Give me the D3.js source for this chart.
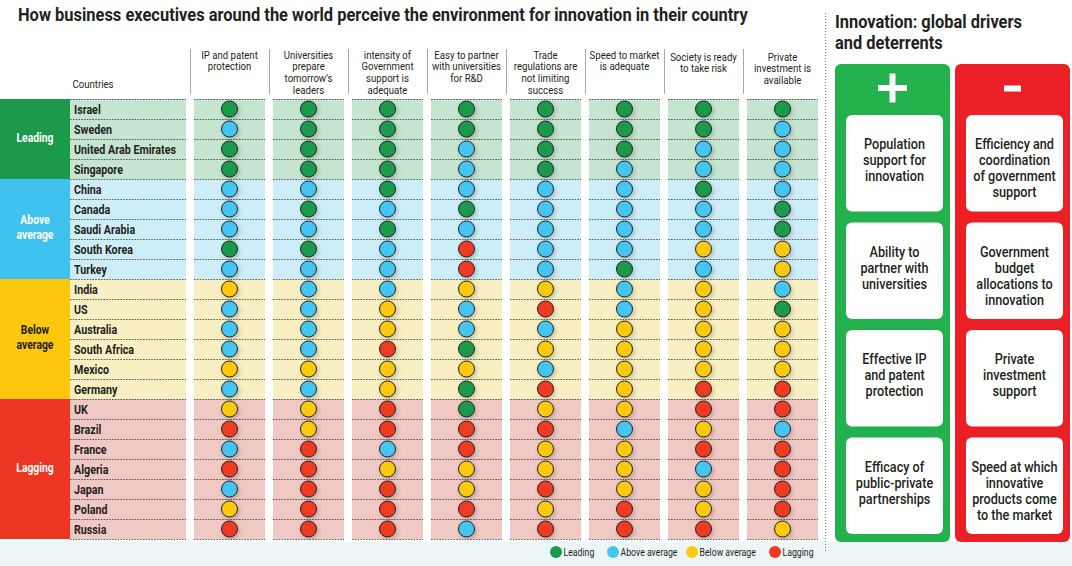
<!DOCTYPE html>
<html><head><meta charset="utf-8">
<script src="https://cdn.jsdelivr.net/npm/d3@7/dist/d3.min.js"></script>
<style>
html,body{margin:0;padding:0;background:#fff;}
svg{display:block;font-family:Roboto,"Noto Sans",sans-serif;}
</style></head><body>
<svg id="chart" width="1072" height="566"></svg>
<script>
// ---------- DATA ----------
const countries = ["Israel","Sweden","United Arab Emirates","Singapore","China","Canada","Saudi Arabia","South Korea","Turkey","India","US","Australia","South Africa","Mexico","Germany","UK","Brazil","France","Algeria","Japan","Poland","Russia"];
const groups = ["Leading","Above average","Below average","Lagging"];
const groupCounts = [4,5,6,7];
const criteria = ["IP and patent protection","Universities prepare tomorrow's leaders","intensity of Government support is adequate","Easy to partner with universities for R&D","Trade regulations are not limiting success","Speed to market is adequate","Society is ready to take risk","Private investment is available"];
const headerLines = [
  ["IP and patent","protection"],
  ["Universities","prepare","tomorrow’s","leaders"],
  ["intensity of","Government","support is","adequate"],
  ["Easy to partner","with universities","for R&D"],
  ["Trade","regulations are","not limiting","success"],
  ["Speed to market","is adequate"],
  ["Society is ready","to take risk"],
  ["Private","investment is","available"]
];
// L = Leading, A = Above average, B = Below average, G = Lagging
const ipProtection   = ["L","A","L","L","A","A","A","L","A","B","A","A","A","B","A","B","G","A","G","A","B","G"];
const universities   = ["L","L","L","L","A","L","A","L","A","A","A","A","A","B","A","B","B","G","G","G","G","G"];
const govSupport     = ["L","L","L","L","L","A","L","A","A","A","B","B","G","B","B","G","G","A","B","G","G","G"];
const partnerUniv    = ["L","L","A","A","A","L","A","G","G","B","A","A","L","B","L","L","G","G","B","B","G","A"];
const tradeRegs      = ["L","L","L","L","A","A","A","A","A","B","G","A","B","A","G","B","G","B","B","G","B","G"];
const speedToMarket  = ["L","L","L","A","A","A","A","A","L","A","A","B","B","B","B","B","A","B","B","B","G","G"];
const societyRisk    = ["L","L","A","A","L","A","A","B","A","B","B","B","B","B","G","G","B","G","A","B","B","G"];
const privateInvest  = ["L","A","A","A","A","L","L","B","B","A","L","B","B","B","G","G","A","G","G","G","G","B"];
const seriesValues = [ipProtection, universities, govSupport, partnerUniv, tradeRegs, speedToMarket, societyRisk, privateInvest];
const levelCodes = ["L","A","B","G"];
const legendLabels = ["Leading","Above average","Below average","Lagging"];
const mainTitle = "How business executives around the world perceive the environment for innovation in their country";
const sideTitle = ["Innovation: global drivers","and deterrents"];
const drivers = [["Population","support for","innovation"],["Ability to","partner with","universities"],["Effective IP","and patent","protection"],["Efficacy of","public-private","partnerships"]];
const deterrents = [["Efficiency and","coordination","of government","support"],["Government","budget","allocations to","innovation"],["Private","investment","support"],["Speed at which","innovative","products come","to the market"]];

// ---------- STYLE ----------
const dotColor = d3.scaleOrdinal().domain(levelCodes).range(["#1b9a4b","#45c5f1","#fdc911","#ee3a24"]);
const blockColor = d3.scaleOrdinal().domain(groups).range(["#1a9a4a","#3fc2ee","#fdc70d","#ed3524"]);
const tintColor = d3.scaleOrdinal().domain(groups).range(["#c5e5d0","#cdeef9","#f8f0c3","#f1c9c4"]);
const labelColor = d3.scaleOrdinal().domain(groups).range(["#fff","#fff","#231f20","#fff"]);
const dark = "#231f20";

const svg = d3.select("#chart");

// condensed look: horizontal scale measured from natural width vs. target width
function measure(str, size, weight){
  const t = svg.append("text").attr("font-size",size).attr("font-weight",weight).text(str);
  const w = t.node().getComputedTextLength(); t.remove(); return w;
}
function txt(parent, x, y, str, o){
  return parent.append("text")
    .attr("transform",`translate(${x},${y}) scale(${o.sx},1)`)
    .attr("text-anchor",o.anchor||"start").attr("font-size",o.size).attr("font-weight",o.weight||"normal")
    .attr("fill",o.fill||dark).text(str);
}
const S = {
  title:   {size:19,  weight:"bold"},
  country: {size:12.8,weight:"bold"},
  header:  {size:10.2,weight:"normal"},
  group:   {size:12.5,weight:"bold"},
  legend:  {size:10.5,weight:"normal"},
  side:    {size:18,  weight:"bold"},
  card:    {size:14,  weight:500}
};
S.title.sx   = 730 / measure(mainTitle, S.title.size, "bold");
S.country.sx = 102 / measure("United Arab Emirates", S.country.size, "bold");
S.header.sx  = 69  / measure("with universities", S.header.size, "normal");
S.group.sx   = 37  / measure("Leading", S.group.size, "bold");
S.legend.sx  = 57  / measure("Above average", S.legend.size, "normal");
S.side.sx    = 187 / measure(sideTitle[0], S.side.size, "bold");
S.card.sx    = 61  / measure("Population", S.card.size, 500);

const defs = svg.append("defs");
const f = defs.append("filter").attr("id","sh").attr("x","-50%").attr("y","-50%").attr("width","200%").attr("height","200%");
f.append("feDropShadow").attr("dx",1.5).attr("dy",2).attr("stdDeviation",2).attr("flood-color","#000").attr("flood-opacity",0.22);

// bottom light strip
svg.append("rect").attr("x",0).attr("y",542).attr("width",1072).attr("height",24).attr("fill","#edf6f6");

// title
txt(svg, 18, 21, mainTitle, S.title);

// scales
const y = d3.scaleBand().domain(countries).range([99,539]);
const x = d3.scaleBand().domain(criteria).range([190,822]).paddingInner(8/79).paddingOuter(4/79);

// group membership
const countryGroup = [];
groups.forEach((g,i)=>{ for(let k=0;k<groupCounts[i];k++) countryGroup.push(g); });
const groupSpans = groups.map((g,i)=>{
  const first = countries[countryGroup.indexOf(g)];
  const last = countries[countryGroup.lastIndexOf(g)];
  return {g, y0:y(first), y1:y(last)+y.bandwidth()};
});

// group blocks
svg.append("g").selectAll("rect").data(groupSpans).join("rect")
  .attr("x",0).attr("y",d=>d.y0).attr("width",70).attr("height",d=>d.y1-d.y0).attr("fill",d=>blockColor(d.g));
const glg = svg.append("g");
groupSpans.forEach(d=>{
  const words = d.g.split(" ");
  const cy = (d.y0+d.y1)/2 - 2;
  const lh = 14.5;
  words.forEach((w,i)=>{
    txt(glg, 35, cy + (i-(words.length-1)/2)*lh + 4.5, w, Object.assign({}, S.group, {anchor:"middle", fill:labelColor(d.g)}));
  });
});

// country tinted column and panels
svg.append("g").selectAll("rect").data(groupSpans).join("rect")
  .attr("x",70).attr("y",d=>d.y0).attr("width",116).attr("height",d=>d.y1-d.y0).attr("fill",d=>tintColor(d.g));
criteria.forEach(c=>{
  svg.append("g").selectAll("rect").data(groupSpans).join("rect")
    .attr("x",x(c)).attr("y",d=>d.y0).attr("width",x.bandwidth()).attr("height",d=>d.y1-d.y0).attr("fill",d=>tintColor(d.g));
});

// dotted row lines
const boundaries = countries.map(c=>y(c)).concat([y(countries[countries.length-1])+y.bandwidth()]);
const segs = [[70,186]].concat(criteria.map(c=>[x(c), x(c)+x.bandwidth()]));
const lines = svg.append("g").attr("stroke","#3a3a3a").attr("stroke-width",0.8).attr("stroke-dasharray","1.6,1.2");
boundaries.forEach(by=>{
  segs.forEach(s=>{
    lines.append("line").attr("x1",s[0]).attr("x2",s[1]).attr("y1",by+0.5).attr("y2",by+0.5);
  });
});

// country names
const cg = svg.append("g");
countries.forEach(c=>{ txt(cg, 74, y(c)+y.bandwidth()/2+4.6, c, S.country); });

// header
const hg = svg.append("g");
txt(hg, 93, 88, "Countries", Object.assign({}, S.header, {anchor:"middle"}));
svg.append("g").selectAll("line").data(criteria).join("line")
  .attr("x1",d=>x(d)-4+0.5).attr("x2",d=>x(d)-4+0.5).attr("y1",49).attr("y2",94)
  .attr("stroke","#a8a8a8").attr("stroke-width",1);
criteria.forEach((c,i)=>{
  const y0 = headerLines[i].length < 4 && i >= 6 ? 60.5 : 58.5;
  headerLines[i].forEach((ln,k)=>{
    txt(hg, x(c)+x.bandwidth()/2, y0 + k*11.8, ln, Object.assign({}, S.header, {anchor:"middle"}));
  });
});

// dots
const cells = [];
criteria.forEach((c,i)=>{ countries.forEach((ct,j)=>{ cells.push({c, ct, v: seriesValues[i][j]}); }); });
svg.append("g").selectAll("circle").data(cells).join("circle")
  .attr("cx",d=>x(d.c)+x.bandwidth()/2).attr("cy",d=>y(d.ct)+y.bandwidth()/2).attr("r",8)
  .attr("fill",d=>dotColor(d.v)).attr("stroke","#222").attr("stroke-width",1).attr("filter","url(#sh)");

// legend
const legendX = [556,613,692,775];
const lgg = svg.append("g");
levelCodes.forEach((d,i)=>{
  lgg.append("circle").attr("cx",legendX[i]).attr("cy",552).attr("r",6).attr("fill",dotColor(d));
  txt(lgg, legendX[i]+7.5, 555.8, legendLabels[i], S.legend);
});

// ---------- right panel ----------
svg.append("line").attr("x1",825.5).attr("x2",825.5).attr("y1",13).attr("y2",553)
  .attr("stroke","#555").attr("stroke-width",0.8).attr("stroke-dasharray","1,2");
sideTitle.forEach((t,i)=>{ txt(svg, 835, 27.5+i*21.5, t, S.side); });
const panels = [{x:835, color:"#22b14c", items:drivers},{x:955, color:"#ec1f26", items:deterrents}];
const cardY = d3.scaleBand().domain(d3.range(4)).range([115-5.5,534+5.5]).paddingInner(11/106.5).paddingOuter(5.5/106.5);
panels.forEach((p,pi)=>{
  svg.append("rect").attr("x",p.x).attr("y",64).attr("width",115).attr("height",478).attr("rx",6).attr("fill",p.color);
  const cx = p.x+57.5;
  if(pi===0){
    svg.append("rect").attr("x",cx-14.5).attr("y",85).attr("width",29).attr("height",6).attr("fill","#fff");
    svg.append("rect").attr("x",cx-3).attr("y",73.5).attr("width",6).attr("height",29).attr("fill","#fff");
  } else {
    svg.append("rect").attr("x",cx-8.5).attr("y",85.5).attr("width",17).attr("height",6).attr("fill","#fff");
  }
  p.items.forEach((lnArr,k)=>{
    const top = cardY(k);
    svg.append("rect").attr("x",p.x+11).attr("y",top).attr("width",97).attr("height",cardY.bandwidth()).attr("rx",6).attr("fill","#fff");
    lnArr.forEach((ln,m)=>{
      txt(svg, p.x+11+48.5, top+34 + m*16, ln, Object.assign({}, S.card, {anchor:"middle"}));
    });
  });
});
</script>
</body></html>
